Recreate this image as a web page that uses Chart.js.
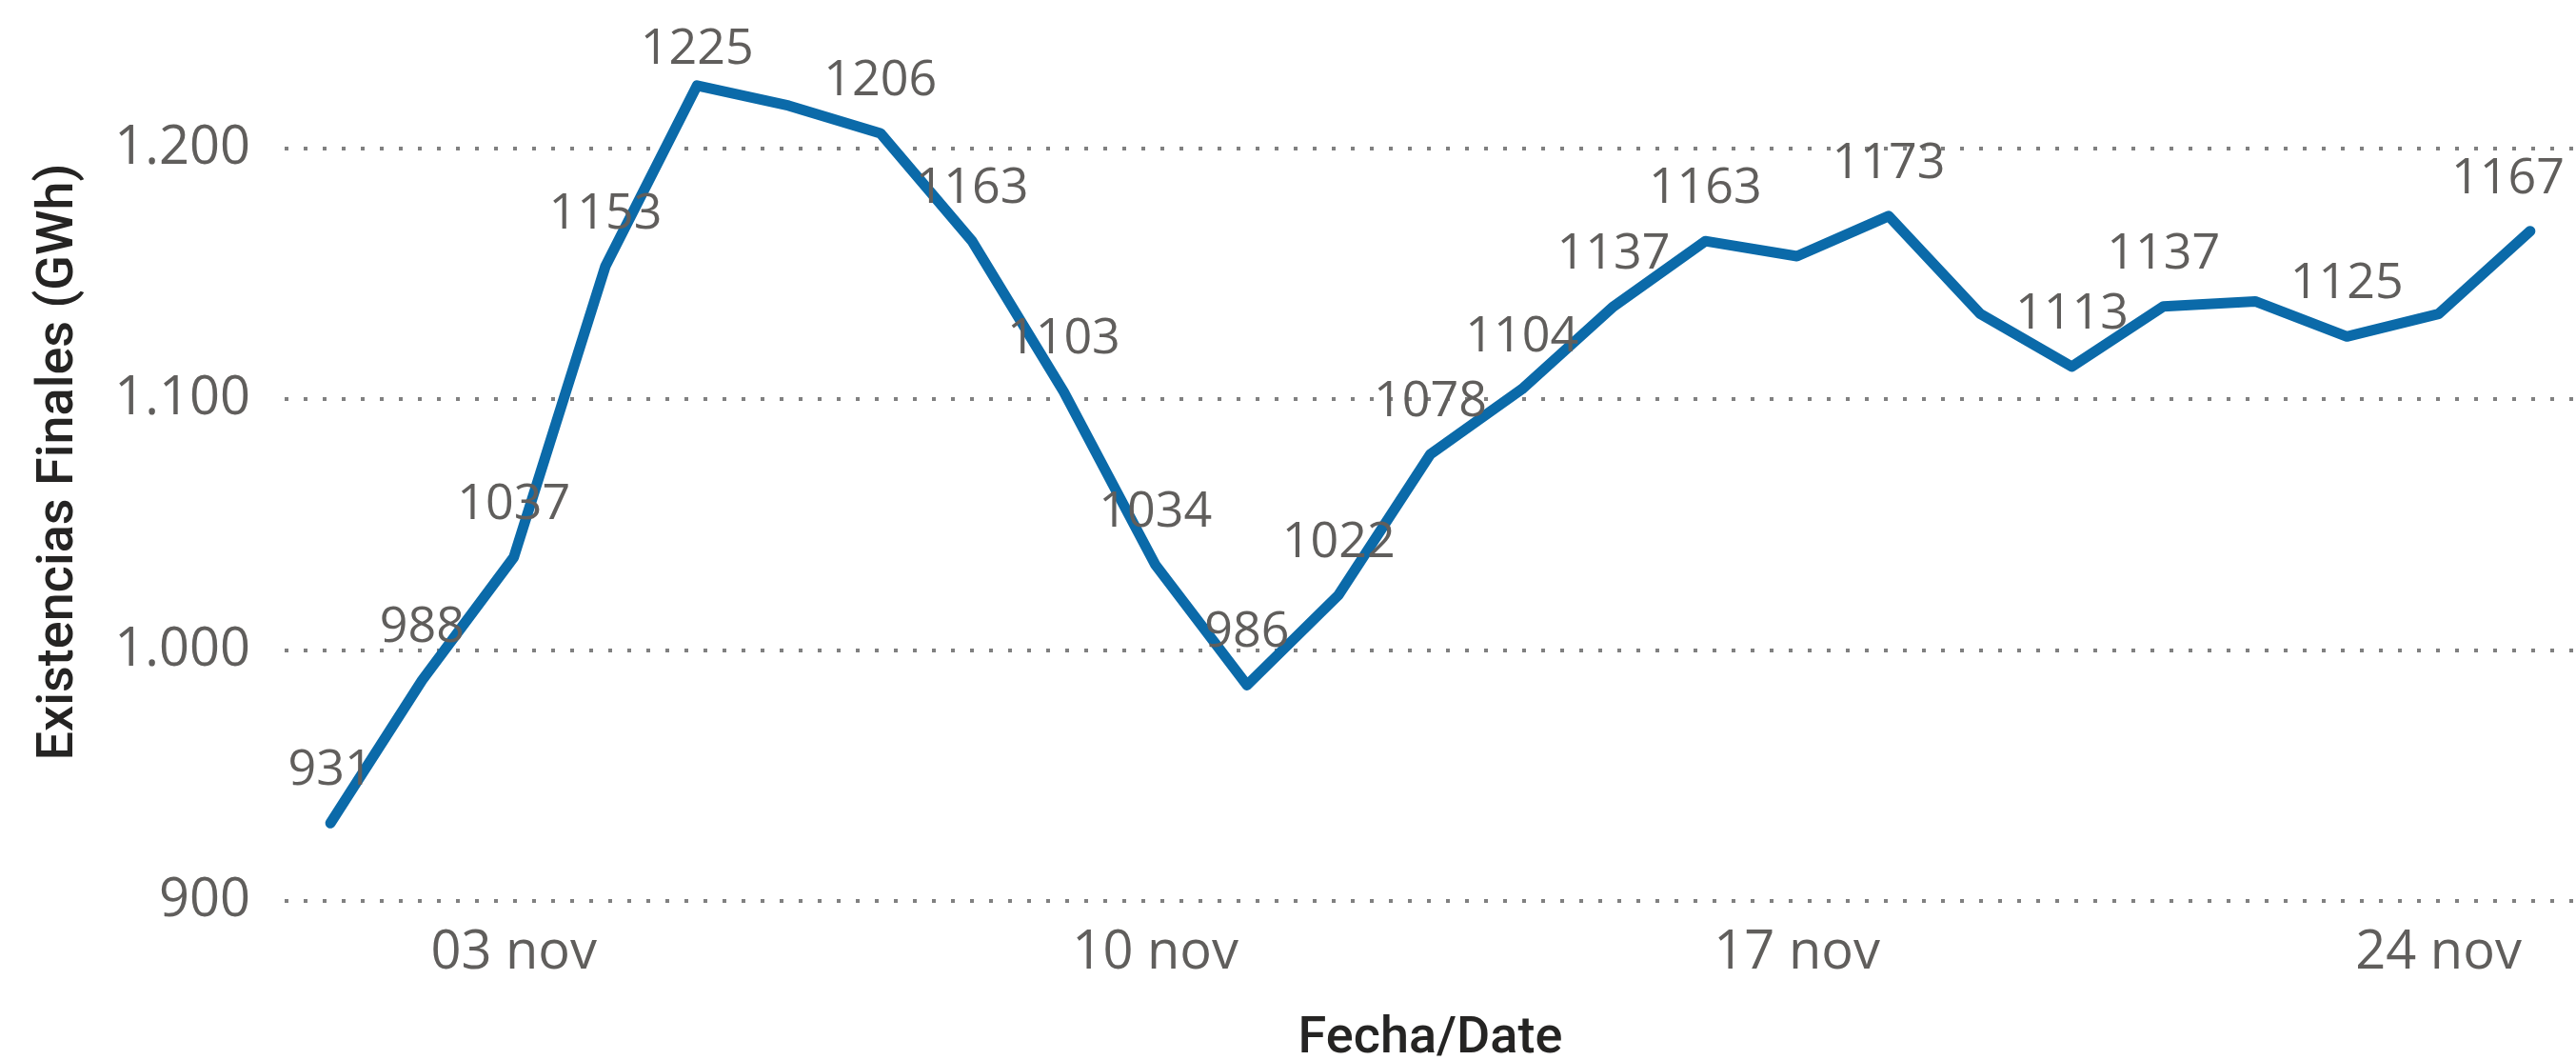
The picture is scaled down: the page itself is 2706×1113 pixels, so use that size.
<html>
  <head>
    <title>Existencias Finales</title>
    <script src="https://cdn.jsdelivr.net/npm/chart.js@4.4.1/dist/chart.umd.min.js"></script>
    <style>
      body { margin: 0; background: #ffffff; }
      #wrap { width: 2706px; height: 1113px; }
    </style>
  </head>
  <body>
    <div id="wrap">
      <canvas id="stockChart" width="2706" height="1113"></canvas>
    </div>
    <script>
      // daily values, 1 to 25 nov
      var days = ['01 nov', '02 nov', '03 nov', '04 nov', '05 nov', '06 nov', '07 nov', '08 nov', '09 nov',
        '10 nov', '11 nov', '12 nov', '13 nov', '14 nov', '15 nov', '16 nov', '17 nov', '18 nov',
        '19 nov', '20 nov', '21 nov', '22 nov', '23 nov', '24 nov', '25 nov'];
      var stock = [931, 988, 1037, 1153, 1225, 1217, 1206, 1163, 1103, 1034, 986, 1022, 1078,
        1104, 1137, 1163, 1157, 1173, 1134, 1113, 1137, 1139, 1125, 1134, 1167];
      var xTickLabels = ['03 nov', '10 nov', '17 nov', '24 nov'];
      var yTicks = [900, 1000, 1100, 1200];
      // points whose value label is not shown
      var hiddenLabels = [5, 16, 18, 21, 23];

      var grey = '#605E5C';
      var dark = '#252423';

      function fmtThousands(v) {
        return String(v).replace(/\B(?=(\d{3})+(?!\d))/g, '.');
      }

      var pointLabels = {
        id: 'pointLabels',
        afterDatasetsDraw: function (chart) {
          var ctx = chart.ctx;
          var meta = chart.getDatasetMeta(0);
          ctx.save();
          ctx.font = '52px "Open Sans"';
          ctx.fillStyle = grey;
          ctx.textAlign = 'center';
          ctx.textBaseline = 'alphabetic';
          meta.data.forEach(function (pt, i) {
            if (hiddenLabels.indexOf(i) >= 0) return;
            var txt = String(stock[i]);
            var w = ctx.measureText(txt).width;
            var x = pt.x;
            if (x + w / 2 > chart.width - 12) x = chart.width - 12 - w / 2;
            var y = Math.max(pt.y - 40, 67);
            ctx.fillText(txt, x, y);
          });
          ctx.restore();
        }
      };

      new Chart(document.getElementById('stockChart'), {
        type: 'line',
        data: {
          labels: days,
          datasets: [{
            data: stock,
            borderColor: '#0B6AA9',
            borderWidth: 11,
            borderCapStyle: 'round',
            borderJoinStyle: 'round',
            pointRadius: 0,
            tension: 0,
            fill: false
          }]
        },
        options: {
          responsive: false,
          animation: false,
          devicePixelRatio: 1,
          layout: { padding: { top: 24, right: 0, bottom: 0, left: 0 } },
          plugins: {
            legend: { display: false },
            tooltip: { enabled: false }
          },
          scales: {
            x: {
              offset: true,
              grid: { display: false, drawTicks: false },
              border: { display: false },
              ticks: {
                autoSkip: false,
                maxRotation: 0,
                padding: 21,
                color: grey,
                font: { family: 'Open Sans', size: 56 },
                callback: function (v, i) {
                  return xTickLabels.indexOf(days[i]) >= 0 ? days[i] : '';
                }
              },
              title: {
                display: true,
                text: 'Fecha/Date',
                color: dark,
                padding: { top: 0, bottom: 0 },
                font: { family: 'Roboto', size: 54, weight: '500', lineHeight: 0.78 }
              },
              afterFit: function (scale) { scale.height = 167; }
            },
            y: {
              min: 900,
              max: 1250,
              grid: { color: '#808080', lineWidth: 4, drawTicks: false },
              border: { display: false, dash: [4, 16] },
              ticks: {
                padding: 36,
                color: grey,
                font: { family: 'Open Sans', size: 56 },
                callback: function (v) { return fmtThousands(v); }
              },
              afterBuildTicks: function (scale) {
                scale.ticks = yTicks.map(function (v) { return { value: v }; });
              },
              title: {
                display: true,
                text: 'Existencias Finales (GWh)',
                color: dark,
                padding: { top: 35, bottom: 0 },
                font: { family: 'Roboto', size: 54, weight: '500', lineHeight: 1 }
              },
              afterFit: function (scale) {
                scale.width = 299;
                scale.paddingTop = 0;
                scale.paddingBottom = 0;
              }
            }
          }
        },
        plugins: [pointLabels]
      });
    </script>
  </body>
</html>
